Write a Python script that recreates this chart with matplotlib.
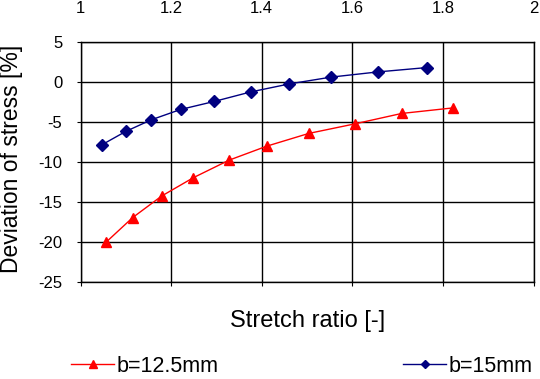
import matplotlib
matplotlib.use("Agg")
import matplotlib.pyplot as plt
from matplotlib.lines import Line2D

plt.rcParams['font.family'] = ['Liberation Sans', 'DejaVu Sans']
plt.rcParams['axes.unicode_minus'] = False

# Data
x_125 = [1.056, 1.115, 1.179, 1.249, 1.328, 1.411, 1.504, 1.606, 1.709, 1.823]
y_125 = [-20.1, -17.0, -14.3, -12.0, -9.8, -8.05, -6.45, -5.25, -3.95, -3.25]
x_15 = [1.048, 1.100, 1.156, 1.221, 1.295, 1.376, 1.461, 1.553, 1.656, 1.765]
y_15 = [-7.85, -6.2, -4.75, -3.45, -2.45, -1.25, -0.25, 0.6, 1.25, 1.8]
x_ticks = [1, 1.2, 1.4, 1.6, 1.8, 2]
x_ticklabels = ['1', '1.2', '1.4', '1.6', '1.8', '2']
y_ticks = [-25, -20, -15, -10, -5, 0, 5]
labels = ['b=12.5mm', 'b=15mm']

W, H = 540, 379
fig = plt.figure(figsize=(W / 100, H / 100), dpi=100)
ax = fig.add_axes([80.5 / W, 1 - 281.5 / H, (533.5 - 80.5) / W, (281.5 - 42) / H])

l1, = ax.plot(x_125, y_125, color='#ff0000', lw=1.0, marker='^', ms=7.5,
              mec='#ff0000', mfc='#ff0000', label=labels[0])
l2, = ax.plot(x_15, y_15, color='#000080', lw=1.0, marker='D', ms=6,
              mec='#000080', mfc='#000080', label=labels[1])

ax.set_xlim(1, 2)
ax.set_ylim(-25, 5)
ax.set_xticks(x_ticks)
ax.set_xticklabels(x_ticklabels)
ax.set_yticks(y_ticks)
ax.grid(True, color='black', lw=1.0)
for s in ax.spines.values():
    s.set_color('black')
    s.set_linewidth(1.0)
ax.tick_params(axis='x', bottom=True, top=False, labelbottom=False, labeltop=True,
               direction='out', length=3, pad=16, labelsize=12, colors='black')
ax.tick_params(axis='y', direction='out', length=3, pad=10, labelsize=12)

fig.text(308 / W, 1 - 321 / H, 'Stretch ratio [-]', ha='center', va='center', fontsize=17)
fig.text(12 / W, 1 - 159 / H, 'Deviation of stress [%]', ha='center', va='center',
         rotation=90, fontsize=16.5)

h1 = Line2D([], [], color='#ff0000', lw=1.0, marker='^', ms=6, mfc='#ff0000', mec='#ff0000')
h2 = Line2D([], [], color='#000080', lw=1.0, marker='D', ms=4.5, mfc='#000080', mec='#000080')
fig.legend([h1, h2], labels, loc='center left', bbox_to_anchor=(71 / W, 1 - 366 / H),
           ncol=2, frameon=False, fontsize=15.5, handlelength=2.0, handletextpad=0.1,
           columnspacing=8.6, borderpad=0, borderaxespad=0)

fig.savefig('out.png', dpi=100)
